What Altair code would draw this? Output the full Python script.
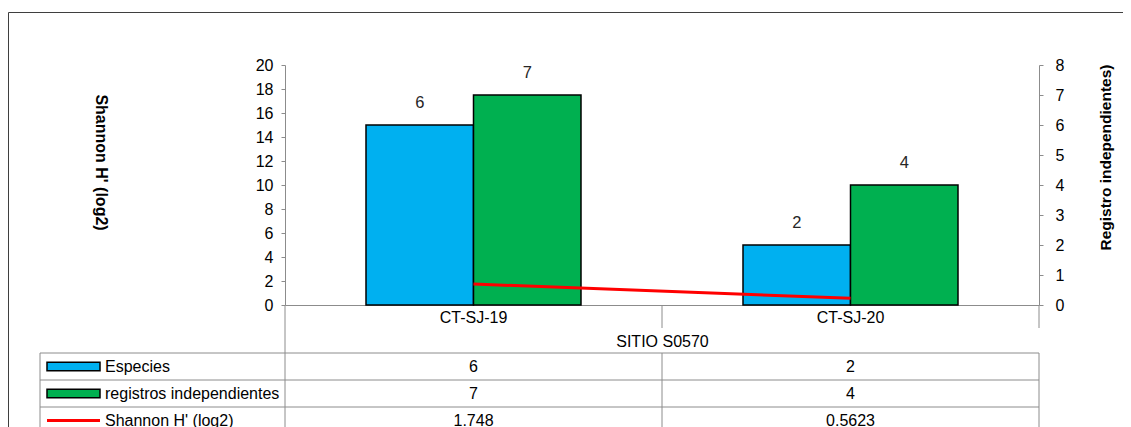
import altair as alt
import pandas as pd

# ---------------- data ----------------
sites = ["CT-SJ-19", "CT-SJ-20"]
group_label = "SITIO S0570"
series_names = ["Especies", "registros independientes", "Shannon H' (log2)"]
especies = [6, 2]
registros = [7, 4]
shannon = [1.748, 0.5623]
shannon_text = ["1.748", "0.5623"]
left_title = "Shannon H' (log2)"
right_title = "Registro independientes)"
shannon_ticks = list(range(0, 21, 2))
count_ticks = list(range(0, 9))

# ---------------- style ----------------
BLUE, GREEN, RED = "#00B0F0", "#00B050", "#FF0000"
GRID, FRAME, INK = "#8c8c8c", "#3f3f3f", "#000000"
FONT = "Liberation Sans"
W, H = 754, 240

bars_df = pd.DataFrame({
    "site": sites * 2,
    "series": [series_names[0]] * 2 + [series_names[1]] * 2,
    "value": especies + registros,
})
line_df = pd.DataFrame({"site": sites, "shannon": shannon})
table_df = pd.DataFrame({
    "site": sites * 3,
    "row": [r for r in series_names for _ in sites],
    "text": [str(v) for v in especies] + [str(v) for v in registros] + shannon_text,
})
rows_df = pd.DataFrame({"row": series_names})
sites_df = pd.DataFrame({"site": sites})
one_df = pd.DataFrame({"k": [0]})

x_scale = alt.Scale(domain=sites, paddingInner=0, paddingOuter=0)
row_scale = alt.Scale(domain=series_names, range=[288, 369], paddingInner=0, paddingOuter=0)
off_scale = alt.Scale(paddingInner=0, paddingOuter=0.7535)

x_axis = alt.Axis(title=group_label, ticks=False, labelPadding=4, labelFontSize=16,
                  labelColor=INK, labelFont=FONT, domainColor=GRID, labelAngle=0,
                  titleFont=FONT, titleFontSize=16, titleFontWeight="normal",
                  titleColor=INK, titleY=36, titleBaseline="middle")
right_axis = alt.Axis(orient="right", values=count_ticks, tickSize=4, tickColor=GRID,
                      domainColor=GRID, labelPadding=12, labelFontSize=16, labelFont=FONT,
                      labelColor=INK, title=right_title, titleAngle=270, titleX=66,
                      titleY=92, titleAlign="center", titleBaseline="middle",
                      titleFont=FONT, titleFontSize=15.5, titleFontWeight="bold",
                      titleColor=INK)
left_axis = alt.Axis(orient="left", values=shannon_ticks, tickSize=4, tickColor=GRID,
                     domainColor=GRID, labelPadding=8, labelFontSize=16, labelFont=FONT,
                     labelColor=INK, title=left_title, titleAngle=90, titleX=-185,
                     titleY=97, titleAlign="center", titleBaseline="middle",
                     titleFont=FONT, titleFontSize=16, titleFontWeight="bold",
                     titleColor=INK)


def xsite(**kw):
    return alt.X("site:N", scale=x_scale, sort=sites, axis=x_axis, **kw)


def yrow(**kw):
    return alt.Y("row:N", scale=row_scale, sort=series_names, axis=None, **kw)


# outer frame
frame = alt.Chart(one_df).mark_rect(fillOpacity=0, stroke=FRAME, strokeWidth=1).encode(
    x=alt.value(-276.5), x2=alt.value(900), y=alt.value(-52.5), y2=alt.value(600)
)

# table grid
h_rules = alt.Chart(rows_df).mark_rule(color=GRID, strokeWidth=1).encode(
    y=yrow(bandPosition=0), x=alt.value(-245), x2=alt.value(W)
)


def vrule(site, band_pos, y0, y1):
    return alt.Chart(sites_df).transform_filter(alt.datum.site == site).mark_rule(
        color=GRID, strokeWidth=1).encode(x=xsite(bandPosition=band_pos),
                                          y=alt.value(y0), y2=alt.value(y1))


v_left = vrule(sites[0], 0, H, 600)
v_mid_top = vrule(sites[1], 0, H, 263)
v_mid_bot = vrule(sites[1], 0, 288, 600)
v_right_top = vrule(sites[-1], 1, H, 263)
v_right_bot = vrule(sites[-1], 1, 288, 600)
v_table_left = alt.Chart(one_df).mark_rule(color=GRID, strokeWidth=1).encode(
    x=alt.value(-245), y=alt.value(288), y2=alt.value(600)
)

# bars (right axis) + labels
bars = alt.Chart(bars_df).mark_bar(stroke="black", strokeWidth=1.5).encode(
    x=xsite(),
    xOffset=alt.XOffset("series:N", sort=series_names[:2], scale=off_scale),
    y=alt.Y("value:Q", scale=alt.Scale(domain=[0, 8]), axis=right_axis),
    color=alt.Color("series:N", scale=alt.Scale(domain=series_names[:2], range=[BLUE, GREEN]),
                    legend=None),
)
bar_labels = alt.Chart(bars_df).mark_text(dy=-22, fontSize=16.5, font=FONT, color="#262626").encode(
    x=xsite(),
    xOffset=alt.XOffset("series:N", sort=series_names[:2], scale=off_scale),
    y=alt.Y("value:Q", scale=alt.Scale(domain=[0, 8]), axis=right_axis),
    text=alt.Text("value:Q", format="d"),
)
bar_group = alt.layer(bars, bar_labels)

# shannon line (left axis)
line = alt.Chart(line_df).mark_line(color=RED, strokeWidth=3).encode(
    x=xsite(),
    y=alt.Y("shannon:Q", scale=alt.Scale(domain=[0, 20]), axis=left_axis),
)

# table texts
cells = alt.Chart(table_df).mark_text(fontSize=16, font=FONT, color=INK).encode(
    x=xsite(), y=yrow(), text="text:N"
)
row_labels = alt.Chart(rows_df).mark_text(align="left", fontSize=16, font=FONT, color=INK).encode(
    x=alt.value(-180), y=yrow(), text="row:N"
)
swatch_rect = alt.Chart(rows_df).transform_filter(
    alt.FieldOneOfPredicate(field="row", oneOf=series_names[:2])
).mark_point(shape="M-1,-0.16H1V0.16H-1Z", size=2809, filled=True, stroke="black",
             strokeWidth=1.5, opacity=1, fillOpacity=1).encode(
    x=alt.value(-211.5), y=yrow(),
    fill=alt.Fill("row:N", scale=alt.Scale(domain=series_names[:2], range=[BLUE, GREEN]),
                  legend=None),
)
swatch_line = alt.Chart(rows_df).transform_filter(
    alt.datum.row == series_names[2]
).mark_point(shape="M-1,0H1", size=2809, filled=False, stroke=RED, strokeWidth=3,
             opacity=1, strokeCap="butt").encode(
    x=alt.value(-211.5), y=yrow()
)

chart = alt.layer(
    frame, h_rules, v_left, v_mid_top, v_mid_bot, v_right_top, v_right_bot, v_table_left,
    bar_group, line, cells, row_labels, swatch_rect, swatch_line,
).resolve_scale(y="independent", fill="independent").properties(
    width=W, height=H,
    autosize=alt.AutoSizeParams(type="none"),
    padding={"left": 277, "top": 57, "right": 84, "bottom": 122},
    background="white",
).configure_view(stroke=None).configure_axis(grid=False)

chart.save("out.html", embed_options={"renderer": "svg", "actions": False})
